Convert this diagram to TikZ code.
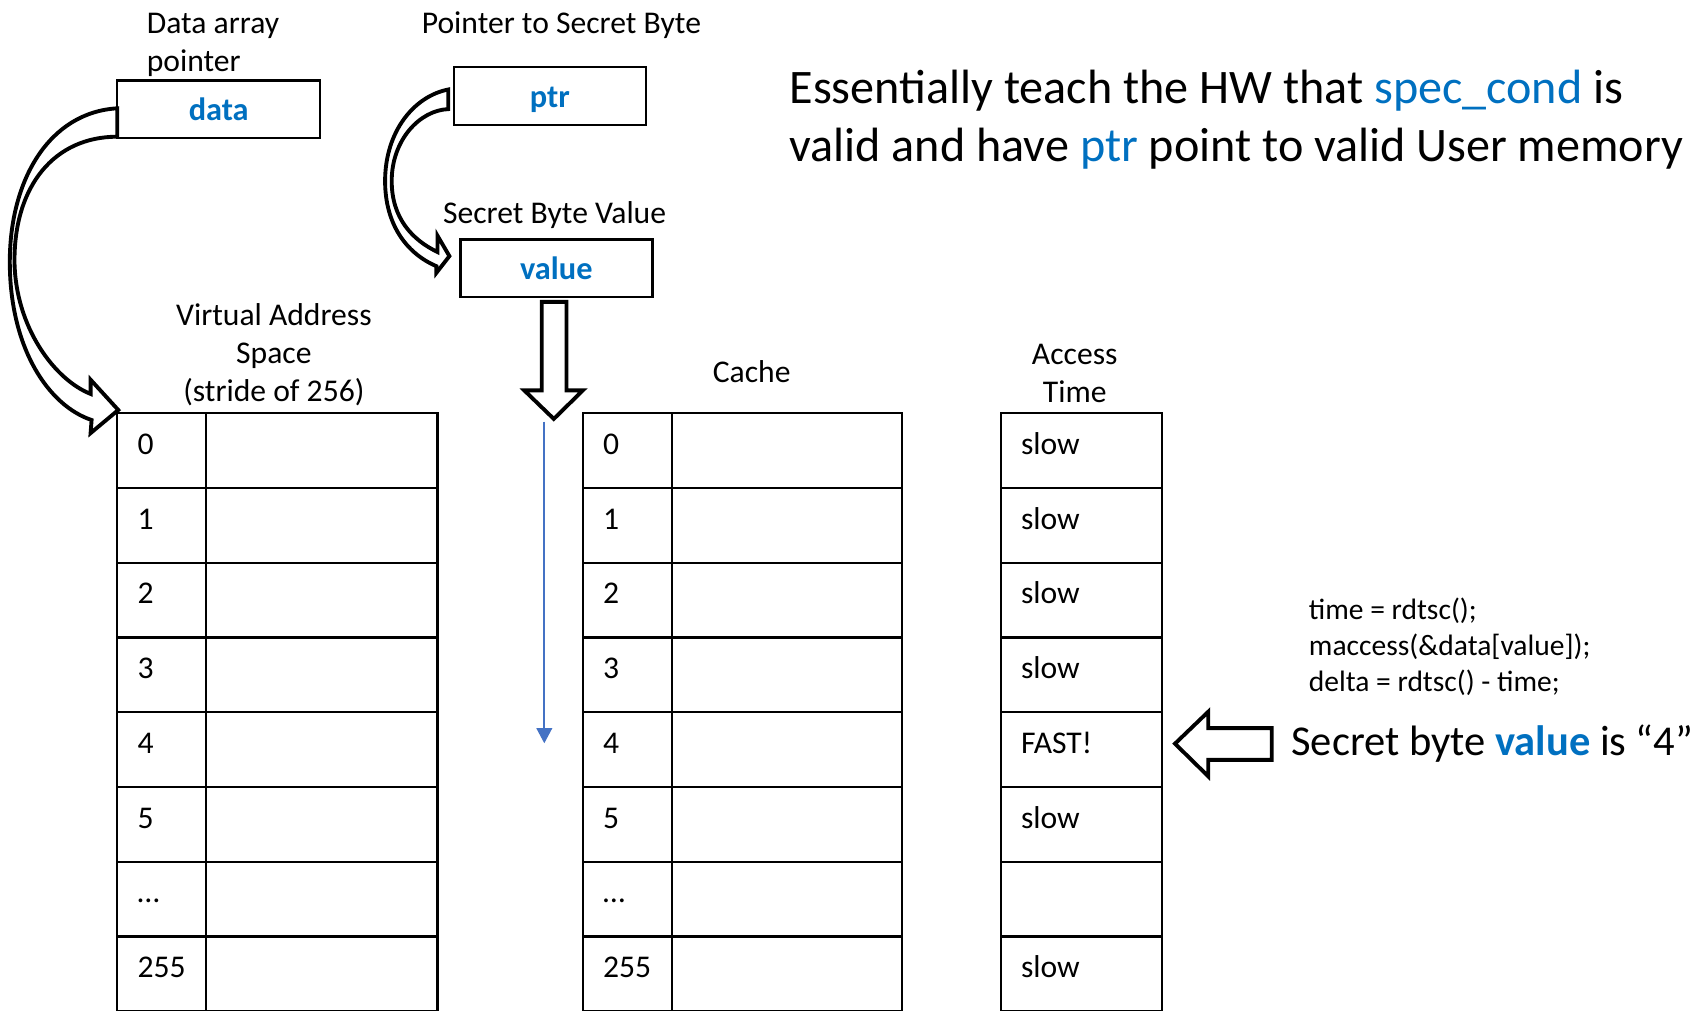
\documentclass[tikz,border=0pt]{standalone}
\usepackage{fontspec}
\setmainfont{Carlito}
\usepackage{tikz}
\usetikzlibrary{positioning,calc,arrows.meta}
\definecolor{hwblue}{RGB}{0,112,192}
\definecolor{scanblue}{RGB}{68,114,196}

\tikzset{
  lbl/.style={inner sep=0pt, font=\fontsize{9}{10.9}\selectfont},
  ptrbox/.style={draw, line width=0.7pt, minimum width=54.65pt, minimum height=16.4pt,
    inner sep=0pt, outer sep=0pt, text height=6.4pt, text depth=0pt,
    text=hwblue, font=\fontsize{9.2}{11}\selectfont\bfseries},
  cell/.style={draw, line width=0.65pt, minimum height=21.27pt, inner sep=0pt, outer sep=0pt,
    anchor=north west},
  num/.style={inner sep=0pt, anchor=base west, font=\fontsize{9}{10.9}\selectfont},
  blockarr/.style={draw, fill=white, line width=1.1pt, line join=miter},
}

\begin{document}
\begin{tikzpicture}[x=0.28461pt, y=-0.28461pt]
  \useasboundingbox (0,0) rectangle (1702,1010);

  % Pointers and value
  \node[ptrbox, minimum width=57.78pt] (data) at (218.7,109.1) {data};
  \node[ptrbox] (ptr) at (549.8,96) {ptr};
  \node[ptrbox] (value) at (556.3,268.1) {value};
  \node[lbl, align=left, anchor=south west] (datacap) at ($(data.north west)+(29,-2.9)$) {Data array\\pointer};
  \node[lbl] (ptrcap) at (561.4,25.1) {Pointer to Secret Byte};
  \node[lbl, above=2.9pt of value, xshift=-0.5pt] (valcap) {Secret Byte Value};

  % Tables
  \node[lbl, align=center] (vacap) at (273.9,354.6) {Virtual Address\\Space\\(stride of 256)};
  \node[lbl] (cachecap) at (751.7,372) {Cache};
  \node[lbl, align=center] (atcap) at (1074.7,373.7) {Access\\Time};
  \foreach \i/\t in {0/0,1/1,2/2,3/3,4/4,5/5,6/…,7/255} {
    \node[cell, minimum width=25.3pt] (vi\i) at (117.3,{413.3+\i*74.75}) {};
    \node[cell, minimum width=65.83pt] (vd\i) at (vi\i.north east) {};
    \node[num] at ($(vi\i.north west)+(19.5,41)$) {\t};
    \node[cell, minimum width=25.33pt] (ci\i) at (582.9,{413.3+\i*74.75}) {};
    \node[cell, minimum width=65.52pt] (cd\i) at (ci\i.north east) {};
    \node[num] at ($(ci\i.north west)+(19.5,41)$) {\t};
  }
  \foreach \i/\t in {0/slow,1/slow,2/slow,3/slow,4/FAST!,5/slow,6/,7/slow} {
    \node[cell, minimum width=45.79pt] (at\i) at (1000.8,{413.3+\i*74.75}) {};
    \node[num] at ($(at\i.north west)+(19.5,41)$) {\t};
  }

  % Text
  \node[inner sep=0pt, anchor=west, align=left, font=\fontsize{13.7}{16.5}\selectfont] (claim) at (788.8,120)
    {Essentially teach the HW that \textcolor{hwblue}{spec\_cond} is\\valid and have \textcolor{hwblue}{ptr} point to valid User memory};
  \node[inner sep=0pt, anchor=west, align=left, font=\fontsize{8.4}{10.2}\selectfont] (code) at (1308.2,646.9)
    {time = rdtsc();\\maccess(\&data[value]);\\delta = rdtsc() - time;};
  \node[inner sep=0pt, anchor=west, font=\fontsize{12.1}{14.6}\selectfont] (secret) at (1290.7,744)
    {Secret byte \textcolor{hwblue}{\textbf{value}} is “4”};

  % Arrows
  \draw[blockarr] ($(data.west)+(0,-0.8)$) .. controls (49.1,112.4) and (9.8,180) .. (9.8,261.8)
    .. controls (9.8,349.1) and (49.1,405.9) .. (91.6,420) -- (90.6,433.1) -- ($(vi0.north west)+(1,-3.3)$)
    -- (90.6,379.7) -- (90.6,393.9) .. controls (54.6,379.7) and (15.5,327.3) .. (14.5,261.8)
    .. controls (14,185.5) and (54.6,136.7) .. ($(data.west)+(0,27.6)$) -- cycle;
  \draw[blockarr] ($(ptr.west)+(-5.5,-6.5)$) .. controls (414.6,96) and (385.1,130.9) .. (385.1,181.1)
    .. controls (385.1,223.7) and (405.9,253.1) .. (436.4,266.2) -- (436.4,272.8) -- ($(value.west)+(-10.9,-12)$)
    -- (437.5,235.7) -- (437.5,252) .. controls (412.4,240) and (391.7,218.2) .. (391.7,181.1)
    .. controls (391.7,139.6) and (420,110.2) .. ($(ptr.west)+(-5.5,13.1)$) -- cycle;
  \draw[blockarr] ($(value.south)+(-14.5,5)$) -- ++(0,88.5) -- ++(-17.5,0) -- ($(value.south)+(-2.5,122)$)
    -- ($(value.south)+(26.5,93.5)$) -- ++(-16.3,0) -- ($(value.south)+(10.2,5)$) -- cycle;
  \draw[blockarr] ($(at4.east)+(13.3,-6)$) -- ++(33.3,-32) -- ++(0,16.5) -- ++(63.4,0) -- ++(0,31.7)
    -- ++(-63.4,0) -- ++(0,16.5) -- cycle;
  \coordinate (scantop) at (544.3,421.7);
  \coordinate (scanbot) at (544.3,743.3);
  \draw[scanblue, line width=0.6pt, -{Triangle[width=4.4pt,length=4.3pt]}] (scantop) -- (scanbot);

\end{tikzpicture}
\end{document}
